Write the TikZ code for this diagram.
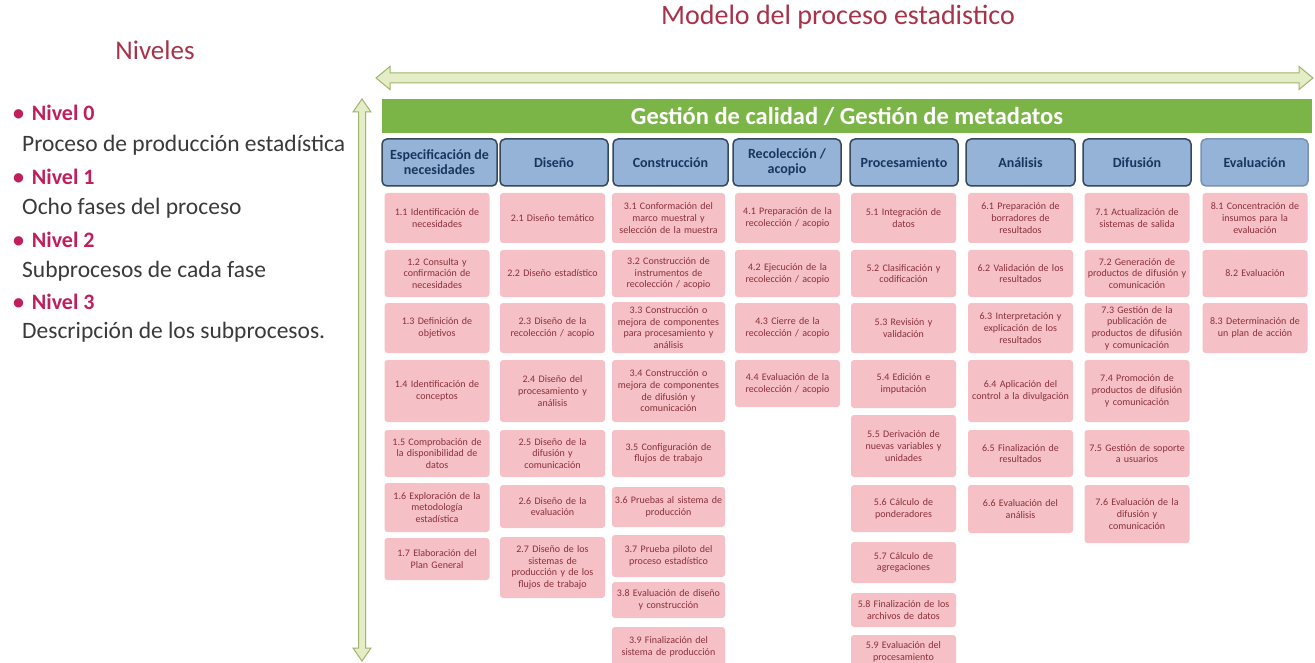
\documentclass[tikz,border=0pt]{standalone}
\usepackage{fontspec}
\setmainfont{Carlito}
\definecolor{titulo}{HTML}{A8324A}
\definecolor{magenta2}{HTML}{C01F5D}
\definecolor{gristxt}{HTML}{3A3A3A}
\definecolor{barra}{HTML}{7CB547}
\definecolor{azulfase}{HTML}{95B3D7}
\definecolor{bordefase}{HTML}{34495E}
\definecolor{txtfase}{HTML}{17365D}
\definecolor{rosa}{HTML}{F5C1C6}
\definecolor{rosatxt}{HTML}{8A2F3A}
\definecolor{flechafill}{HTML}{E4EDC6}
\definecolor{flechaborde}{HTML}{9FB56E}

\begin{document}
\begin{tikzpicture}[x=1pt, y=-1pt,
  fase/.style={fill=azulfase, draw=bordefase, line width=1.5pt, rounded corners=5pt,
    minimum height=47pt, inner sep=1pt, align=center, text=txtfase,
    font=\bfseries\fontsize{14}{15}\selectfont},
  sub/.style={fill=rosa, rounded corners=3pt, inner sep=1pt, text width=103pt,
    align=center, text=rosatxt, font=\fontsize{10}{11.7}\selectfont},
  ancho/.style={text width=111pt},
  nivel/.style={anchor=west, inner sep=0pt, text=magenta2,
    font=\bfseries\fontsize{22}{26}\selectfont},
  desc/.style={anchor=west, inner sep=0pt, text=gristxt,
    font=\fontsize{23.5}{27}\selectfont},
  flecha/.style={fill=flechafill, draw=flechaborde, line width=1pt},
]
\useasboundingbox (0,0) rectangle (1315,663);
\clip (0,0) rectangle (1315,663);
\fill[white] (0,0) rectangle (1315,663);

% titulos
\node[text=titulo, font=\fontsize{27}{30}\selectfont] (niveles) at (155,50) {Niveles};
\node[text=titulo, font=\fontsize{28}{32}\selectfont] (modelo) at (838,17) {Modelo del proceso estadistico};

% niveles
\node[nivel] (n0) at (13,113) {\textbullet\hspace{0.35em}Nivel 0};
\node[desc] (d0) at (22,145) {Proceso de producción estadística};
\node[nivel] (n1) at (13,177) {\textbullet\hspace{0.35em}Nivel 1};
\node[desc] (d1) at (22,208) {Ocho fases del proceso};
\node[nivel] (n2) at (13,240) {\textbullet\hspace{0.35em}Nivel 2};
\node[desc] (d2) at (22,271) {Subprocesos de cada fase};
\node[nivel] (n3) at (13,302) {\textbullet\hspace{0.35em}Nivel 3};
\node[desc] (d3) at (22,332) {Descripción de los subprocesos.};

% flechas dobles
\draw[flecha] (376,78) -- (390,66.5) -- (390,73) -- (1299,73) -- (1299,66.5) -- (1313,78)
  -- (1299,89.5) -- (1299,83) -- (390,83) -- (390,89.5) -- cycle;
\draw[flecha] (362,99) -- (371,112) -- (365.5,112) -- (365.5,648) -- (371,648) -- (362,661)
  -- (353,648) -- (358.5,648) -- (358.5,112) -- (353,112) -- cycle;

% barra de gestion
\node[fill=barra, minimum width=930pt, minimum height=34pt, inner sep=0pt, text=white,
  font=\bfseries\fontsize{24.5}{26}\selectfont] (gestion) at (847,116)
  {Gestión de calidad / Gestión de metadatos};

% fases
\node[fase, minimum width=115pt] (f1) at (439.5,162.5) {Especificación de\\necesidades};
\node[fase, minimum width=108pt] (f2) at (554,162.5) {Diseño};
\node[fase, minimum width=115pt] (f3) at (670.5,162.5) {Construcción};
\node[fase, minimum width=108pt] (f4) at (787,162.5) {Recolección /\\acopio};
\node[fase, minimum width=108pt] (f5) at (904,162.5) {Procesamiento};
\node[fase, minimum width=109pt] (f6) at (1020.5,162.5) {Análisis};
\node[fase, minimum width=108pt] (f7) at (1137,162.5) {Difusión};
\node[fase, minimum width=107pt, draw=azulfase!70!bordefase] (f8) at (1254.5,162.5) {Evaluación};

% 1 especificacion
\node[sub, minimum height=50pt] (s11) at (437,218) {1.1 Identificación de\\necesidades};
\node[sub, minimum height=47pt] (s12) at (437,273.5) {1.2 Consulta y\\confirmación de\\necesidades};
\node[sub, minimum height=50pt] (s13) at (437,328) {1.3 Definición de\\objetivos};
\node[sub, minimum height=62pt] (s14) at (437,391) {1.4 Identificación de\\conceptos};
\node[sub, minimum height=47pt] (s15) at (437,453.5) {1.5 Comprobación de\\la disponibilidad de\\datos};
\node[sub, minimum height=49pt] (s16) at (437,507.5) {1.6 Exploración de la\\metodología\\estadística};
\node[sub, minimum height=42pt] (s17) at (437,559) {1.7 Elaboración del\\Plan General};

% 2 diseno
\node[sub, minimum height=50pt] (s21) at (552.5,218) {2.1 Diseño temático};
\node[sub, minimum height=47pt] (s22) at (552.5,273.5) {2.2 Diseño estadístico};
\node[sub, minimum height=50pt] (s23) at (552.5,328) {2.3 Diseño de la\\recolección / acopio};
\node[sub, minimum height=62pt] (s24) at (552.5,391) {2.4 Diseño del\\procesamiento y\\análisis};
\node[sub, minimum height=47pt] (s25) at (552.5,453.5) {2.5 Diseño de la\\difusión y\\comunicación};
\node[sub, minimum height=43pt] (s26) at (552.5,506.5) {2.6 Diseño de la\\evaluación};
\node[sub, minimum height=61pt] (s27) at (552.5,567.5) {2.7 Diseño de los\\sistemas de\\producción y de los\\flujos de trabajo};

% 3 construccion
\node[sub, ancho, minimum height=50pt] (s31) at (668.5,218) {3.1 Conformación del\\marco muestral y\\selección de la muestra};
\node[sub, ancho, minimum height=47pt] (s32) at (668.5,273.5) {3.2 Construcción de\\instrumentos de\\recolección / acopio};
\node[sub, ancho, minimum height=51pt] (s33) at (668.5,327.5) {3.3 Construcción o\\mejora de componentes\\para procesamiento y\\análisis};
\node[sub, ancho, minimum height=62pt] (s34) at (668.5,391) {3.4 Construcción o\\mejora de componentes\\de difusión y\\comunicación};
\node[sub, ancho, minimum height=47pt] (s35) at (668.5,453.5) {3.5 Configuración de\\flujos de trabajo};
\node[sub, ancho, minimum height=40pt] (s36) at (668.5,507) {3.6 Pruebas al sistema de\\producción};
\node[sub, ancho, minimum height=42pt] (s37) at (668.5,556) {3.7 Prueba piloto del\\proceso estadístico};
\node[sub, ancho, minimum height=36pt] (s38) at (668.5,600) {3.8 Evaluación de diseño\\y construcción};
\node[sub, ancho, minimum height=40pt] (s39) at (668.5,647) {3.9 Finalización del\\sistema de producción};

% 4 recoleccion
\node[sub, minimum height=50pt] (s41) at (787.5,218) {4.1 Preparación de la\\recolección / acopio};
\node[sub, minimum height=47pt] (s42) at (787.5,273.5) {4.2 Ejecución de la\\recolección / acopio};
\node[sub, minimum height=50pt] (s43) at (787.5,328) {4.3 Cierre de la\\recolección / acopio};
\node[sub, minimum height=47pt] (s44) at (787.5,383.5) {4.4 Evaluación de la\\recolección / acopio};

% 5 procesamiento
\node[sub, minimum height=50pt] (s51) at (903.5,218) {5.1 Integración de\\datos};
\node[sub, minimum height=47pt] (s52) at (903.5,273.5) {5.2 Clasificación y\\codificación};
\node[sub, minimum height=50pt] (s53) at (903.5,328) {5.3 Revisión y\\validación};
\node[sub, minimum height=48pt] (s54) at (903.5,384) {5.4 Edición e\\imputación};
\node[sub, minimum height=62pt] (s55) at (903.5,446) {5.5 Derivación de\\nuevas variables y\\unidades};
\node[sub, minimum height=47pt] (s56) at (903.5,508.5) {5.6 Cálculo de\\ponderadores};
\node[sub, minimum height=41pt] (s57) at (903.5,562.5) {5.7 Cálculo de\\agregaciones};
\node[sub, minimum height=34pt] (s58) at (903.5,610) {5.8 Finalización de los\\archivos de datos};
\node[sub, minimum height=33pt] (s59) at (903.5,651.5) {5.9 Evaluación del\\procesamiento};

% 6 analisis
\node[sub, minimum height=50pt] (s61) at (1020.5,218) {6.1 Preparación de\\borradores de\\resultados};
\node[sub, minimum height=47pt] (s62) at (1020.5,273.5) {6.2 Validación de los\\resultados};
\node[sub, minimum height=50pt] (s63) at (1020.5,328) {6.3 Interpretación y\\explicación de los\\resultados};
\node[sub, minimum height=62pt] (s64) at (1020.5,391) {6.4 Aplicación del\\control a la divulgación};
\node[sub, minimum height=47pt] (s65) at (1020.5,453.5) {6.5 Finalización de\\resultados};
\node[sub, minimum height=48pt] (s66) at (1020.5,509) {6.6 Evaluación del\\análisis};

% 7 difusion
\node[sub, minimum height=50pt] (s71) at (1137,218) {7.1 Actualización de\\sistemas de salida};
\node[sub, minimum height=47pt] (s72) at (1137,273.5) {7.2 Generación de\\productos de difusión y\\comunicación};
\node[sub, minimum height=50pt] (s73) at (1137,328) {7.3 Gestión de la\\publicación de\\productos de difusión\\y comunicación};
\node[sub, minimum height=62pt] (s74) at (1137,391) {7.4 Promoción de\\productos de difusión\\y comunicación};
\node[sub, minimum height=47pt] (s75) at (1137,453.5) {7.5 Gestión de soporte\\a usuarios};
\node[sub, minimum height=58pt] (s76) at (1137,514) {7.6 Evaluación de la\\difusión y\\comunicación};

% 8 evaluacion
\node[sub, minimum height=50pt] (s81) at (1255,218) {8.1 Concentración de\\insumos para la\\evaluación};
\node[sub, minimum height=47pt] (s82) at (1255,273.5) {8.2 Evaluación};
\node[sub, minimum height=50pt] (s83) at (1255,328) {8.3 Determinación de\\un plan de acción};
\end{tikzpicture}
\end{document}
